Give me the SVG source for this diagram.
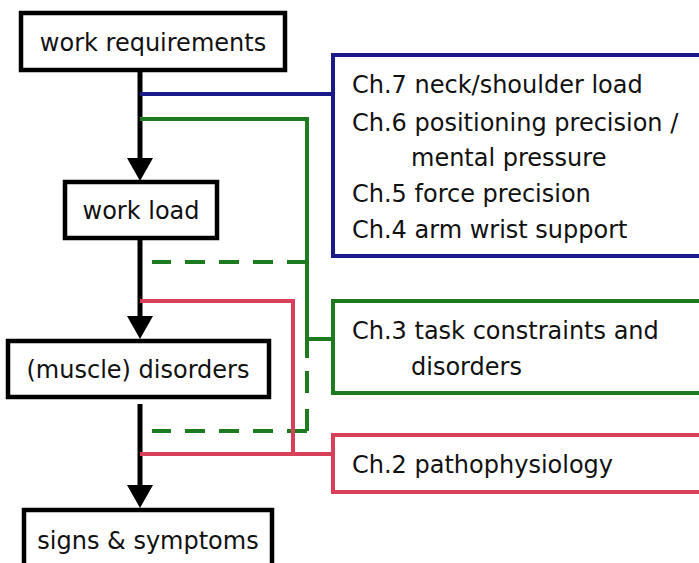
<svg xmlns="http://www.w3.org/2000/svg" width="699" height="563" viewBox="0 0 699 563">
<style>
text{font-family:"DejaVu Sans",sans-serif;font-size:24px;fill:#111}
.box{fill:#fff;stroke:#000;stroke-width:4.5}
.blue{fill:#fff;stroke:#1a1a8a;stroke-width:4}
.green{fill:none;stroke:#1e7a1e;stroke-width:4}
.red{fill:none;stroke:#d8405a;stroke-width:4}
.arrow{stroke:#000;stroke-width:5;fill:none}
.head{fill:#000}
.dash{stroke-dasharray:20 14}
</style>
<rect width="699" height="563" fill="#fff"/>
<g id="connectors">
<line class="arrow" x1="140" y1="70" x2="140" y2="162"/>
<polygon class="head" points="127,158 153,158 140,181"/>
<line class="arrow" x1="140" y1="238" x2="140" y2="320"/>
<polygon class="head" points="127,316 153,316 140,339"/>
<line class="arrow" x1="140" y1="404" x2="140" y2="488"/>
<polygon class="head" points="127,485 153,485 140,508"/>
<path class="green" d="M140,94 H333" style="stroke:#1a1a8a"/>
<path class="green" d="M140,119 H307 V358 M307,339 H333"/>
<line class="green dash" x1="307" y1="262" x2="152" y2="262"/>
<line class="green dash" x1="307" y1="431" x2="152" y2="431"/>
<line class="green" x1="307" y1="431" x2="307" y2="333" style="stroke-dasharray:22 16"/>
<path class="red" d="M140,301 H293 V454 M140,454 H333"/>
</g>
<g id="n1"><rect class="box" x="21" y="13" width="264" height="57"/><text x="153" y="51" text-anchor="middle">work requirements</text></g>
<g id="n2"><rect class="box" x="65" y="182" width="152" height="56"/><text x="141" y="219" text-anchor="middle">work load</text></g>
<g id="n3"><rect class="box" x="8" y="341" width="261" height="56"/><text x="138" y="378" text-anchor="middle">(muscle) disorders</text></g>
<g id="n4"><rect class="box" x="24" y="510" width="248" height="70"/><text x="148" y="549" text-anchor="middle">signs &amp; symptoms</text></g>
<g id="ch7-4"><rect class="blue" x="333" y="55" width="380" height="201"/>
<text x="352" y="93">Ch.7 neck/shoulder load</text>
<text x="352" y="131">Ch.6 positioning precision /</text>
<text x="411" y="166">mental pressure</text>
<text x="352" y="202">Ch.5 force precision</text>
<text x="352" y="238">Ch.4 arm wrist support</text></g>
<g id="ch3"><rect class="green" x="333" y="301" width="380" height="92" style="fill:#fff"/>
<text x="352" y="339">Ch.3 task constraints and</text>
<text x="411" y="375">disorders</text></g>
<g id="ch2"><rect class="red" x="333" y="435" width="380" height="57" style="fill:#fff"/>
<text x="352" y="473">Ch.2 pathophysiology</text></g>
</svg>
